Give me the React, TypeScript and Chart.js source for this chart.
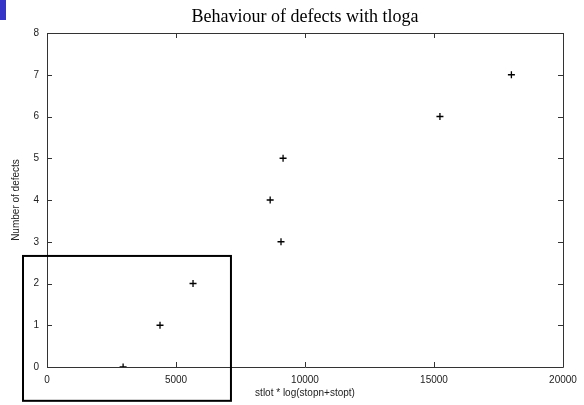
import React, { useEffect, useRef } from 'react';
import { Chart, registerables } from 'chart.js';

Chart.register(...registerables);

const TITLE = 'Behaviour of defects with tloga';
const X_LABEL = 'stlot * log(stopn+stopt)';
const Y_LABEL = 'Number of defects';

// x = stlot * log(stopn+stopt), y = number of defects
const xValues = [2950, 4380, 5660, 9070, 8650, 9150, 15230, 18000];
const defects = [0, 1, 2, 3, 4, 5, 6, 7];

const X_MIN = 0;
const X_MAX = 20000;
const X_STEP = 5000;
const Y_MIN = 0;
const Y_MAX = 8;
const Y_STEP = 1;

// highlight rectangle in data units
const BOX_X = [-930, 7130];
const BOX_Y = [-0.81, 2.66];

const frameColor = '#333333';
const tickFont = { family: '"Liberation Sans", Arial, sans-serif', size: 10 };

const framePlugin = {
  id: 'gnuplotFrame',
  afterDraw(chart: any) {
    const { ctx, chartArea: a, scales } = chart;
    const xs = scales.x;
    const ys = scales.y;
    const tl = 5;
    ctx.save();
    ctx.strokeStyle = frameColor;
    ctx.lineWidth = 1;
    ctx.beginPath();
    ctx.rect(Math.round(a.left) + 0.5, Math.round(a.top) + 0.5, Math.round(a.right - a.left), Math.round(a.bottom - a.top));
    ctx.stroke();
    ctx.beginPath();
    xs.ticks.forEach((t: any) => {
      const px = Math.round(xs.getPixelForValue(t.value)) + 0.5;
      ctx.moveTo(px, a.bottom);
      ctx.lineTo(px, a.bottom - tl);
      ctx.moveTo(px, a.top);
      ctx.lineTo(px, a.top + tl);
    });
    ys.ticks.forEach((t: any) => {
      const py = Math.round(ys.getPixelForValue(t.value)) + 0.5;
      ctx.moveTo(a.left, py);
      ctx.lineTo(a.left + tl, py);
      ctx.moveTo(a.right, py);
      ctx.lineTo(a.right - tl, py);
    });
    ctx.stroke();
    // highlight rectangle
    const x0 = xs.getPixelForValue(BOX_X[0]);
    const x1 = xs.getPixelForValue(BOX_X[1]);
    const y0 = ys.getPixelForValue(BOX_Y[1]);
    const y1 = ys.getPixelForValue(BOX_Y[0]);
    ctx.strokeStyle = '#000000';
    ctx.lineWidth = 2;
    ctx.strokeRect(x0, y0, x1 - x0, y1 - y0);
    ctx.restore();
  },
};

export default function App() {
  const ref = useRef<HTMLCanvasElement>(null);

  useEffect(() => {
    if (!ref.current) return;
    const chart = new Chart(ref.current, {
      type: 'scatter',
      data: {
        datasets: [
          {
            data: xValues.map((x, i) => ({ x, y: defects[i] })),
            pointStyle: 'cross',
            radius: 3.5,
            borderColor: '#000000',
            backgroundColor: '#000000',
            borderWidth: 1.3,
          },
        ],
      },
      options: {
        animation: false,
        responsive: false,
        maintainAspectRatio: false,
        layout: { padding: { left: 0, right: 21, top: 0, bottom: 0 } },
        plugins: {
          legend: { display: false },
          tooltip: { enabled: false },
          title: {
            display: true,
            text: TITLE,
            fullSize: false,
            color: '#000000',
            font: { family: '"Liberation Serif", "Times New Roman", serif', size: 18, weight: 'normal' },
            padding: { top: 6, bottom: 5.4 },
          },
        },
        scales: {
          x: {
            type: 'linear',
            min: X_MIN,
            max: X_MAX,
            grid: { display: false, drawTicks: false },
            border: { display: false },
            ticks: {
              stepSize: X_STEP,
              padding: 7,
              color: '#222',
              font: tickFont,
              maxRotation: 0,
              callback: (v: any) => String(v),
            },
            title: { display: true, text: X_LABEL, color: '#222', font: tickFont, padding: { top: 0, bottom: 6 } },
            afterFit: (s: any) => { s.height = 38; },
          },
          y: {
            type: 'linear',
            min: Y_MIN,
            max: Y_MAX,
            grid: { display: false, drawTicks: false },
            border: { display: false },
            ticks: { stepSize: Y_STEP, padding: 8, color: '#222', font: tickFont, callback: (v: any) => String(v) },
            title: { display: true, text: Y_LABEL, color: '#222', font: tickFont, padding: { top: 10, bottom: 0 } },
            afterFit: (s: any) => { s.width = 47; },
          },
        },
      },
      plugins: [framePlugin],
    });
    return () => chart.destroy();
  }, []);

  return (
    <div style={{ position: 'fixed', left: 0, top: 0, width: 584, height: 405, background: '#fff' }}>
      <div style={{ position: 'absolute', left: 0, top: 0, width: 6, height: 20, background: '#3535c8' }} />
      <canvas ref={ref} width={584} height={405} style={{ display: 'block' }} />
    </div>
  );
}
